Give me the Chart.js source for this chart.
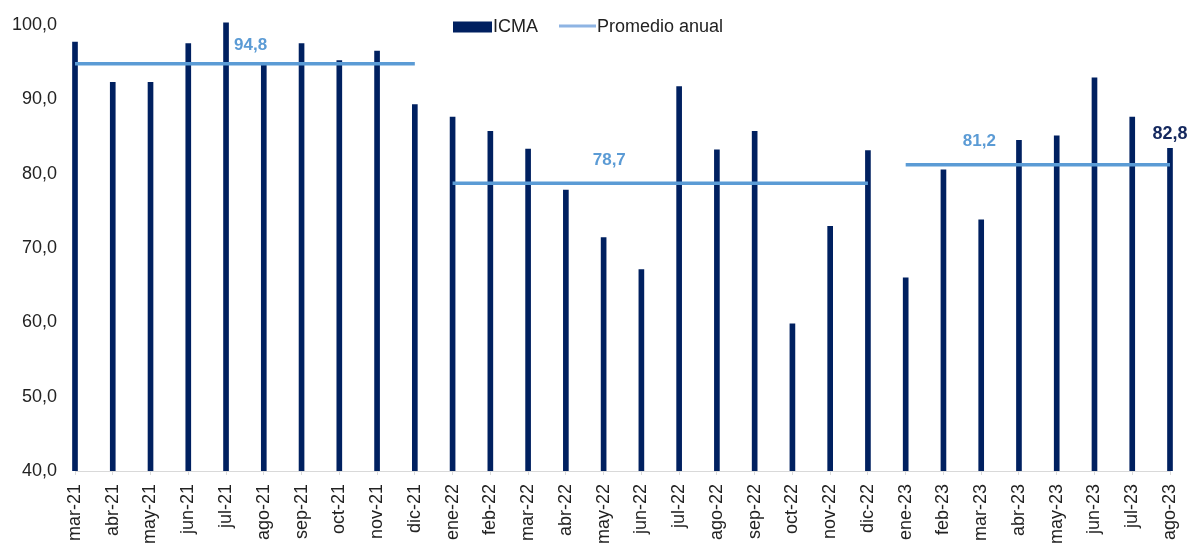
<!DOCTYPE html>
<html lang="es">
<head>
<meta charset="utf-8">
<title>ICMA</title>
<script src="https://cdn.jsdelivr.net/npm/chart.js@4.4.1/dist/chart.umd.min.js"></script>
<style>
    html, body { margin: 0; padding: 0; background: #fff; }
    #contenedor { width: 1189px; height: 545px; position: relative; }
</style>
</head>
<body>
<div id="contenedor">
    <canvas id="graficoIcma"></canvas>
</div>
<script>
// Datos
const meses = [
    'mar-21', 'abr-21', 'may-21', 'jun-21', 'jul-21', 'ago-21', 'sep-21', 'oct-21', 'nov-21', 'dic-21',
    'ene-22', 'feb-22', 'mar-22', 'abr-22', 'may-22', 'jun-22', 'jul-22', 'ago-22', 'sep-22', 'oct-22', 'nov-22', 'dic-22',
    'ene-23', 'feb-23', 'mar-23', 'abr-23', 'may-23', 'jun-23', 'jul-23', 'ago-23'
];
const icma = [
    97.7, 92.3, 92.3, 97.5, 100.3, 94.8, 97.5, 95.2, 96.5, 89.3,
    87.6, 85.7, 83.3, 77.8, 71.4, 67.1, 91.7, 83.2, 85.7, 59.8, 72.9, 83.1,
    66.0, 80.5, 73.8, 84.5, 85.1, 92.9, 87.6, 83.4
];
const anios = ['21', '22', '23'];
const promedioAnual = [94.8, 78.7, 81.2];
const ultimoDato = 82.8;
const yTicks = [40, 50, 60, 70, 80, 90, 100];

const AZUL_OSCURO = '#002060';
const AZUL_CLARO = '#5b9bd5';
const AZUL_LEYENDA = '#8eb4e3';
const FUENTE = '"Liberation Sans", Arial, sans-serif';

const fmt = (v) => v.toFixed(1).replace('.', ',');

// Una serie por año: valor del promedio solo en los meses de ese año
const seriesPromedio = anios.map((a, i) => ({
    type: 'line',
    label: 'Promedio anual ' + a,
    data: meses.map(m => m.endsWith('-' + a) ? promedioAnual[i] : null),
    borderColor: AZUL_CLARO,
    borderWidth: 3.5,
    borderCapStyle: 'butt',
    pointRadius: 0,
    spanGaps: false,
    clip: false,
    order: 1
}));

// Etiquetas de los promedios y del último dato
const etiquetas = {
    id: 'etiquetas',
    afterDatasetsDraw(chart) {
        const { ctx, scales: { x, y } } = chart;
        ctx.save();
        ctx.textAlign = 'center';
        ctx.textBaseline = 'middle';
        // posición (en índice de mes) y distancia sobre la línea
        const pos = [[4.65, 18], [14.15, 23], [23.95, 23]];
        ctx.font = 'bold 17px ' + FUENTE;
        ctx.fillStyle = AZUL_CLARO;
        promedioAnual.forEach((v, i) => {
            const px = x.getPixelForValue(pos[i][0]);
            ctx.fillText(fmt(v), px, y.getPixelForValue(v) - pos[i][1]);
        });
        const n = icma.length - 1;
        ctx.font = 'bold 18px ' + FUENTE;
        ctx.fillStyle = '#14285e';
        ctx.fillText(fmt(ultimoDato), x.getPixelForValue(n), y.getPixelForValue(icma[n]) - 14);
        ctx.restore();
    }
};

// Leyenda dibujada encima del área del gráfico, como en el original
const leyenda = {
    id: 'leyenda',
    afterDraw(chart) {
        const ctx = chart.ctx;
        ctx.save();
        ctx.font = '18px ' + FUENTE;
        ctx.textBaseline = 'middle';
        let x0 = 453;
        const yc = 27;
        ctx.fillStyle = AZUL_OSCURO;
        ctx.fillRect(x0, yc - 5.5, 39, 11);
        ctx.fillStyle = '#222';
        ctx.fillText('ICMA', x0 + 40, yc);
        x0 = x0 + 40 + ctx.measureText('ICMA').width + 21;
        ctx.strokeStyle = AZUL_LEYENDA;
        ctx.lineWidth = 3;
        ctx.beginPath();
        ctx.moveTo(x0, yc - 1);
        ctx.lineTo(x0 + 37, yc - 1);
        ctx.stroke();
        ctx.fillText('Promedio anual', x0 + 38, yc);
        ctx.restore();
    }
};

new Chart(document.getElementById('graficoIcma'), {
    type: 'bar',
    data: {
        labels: meses,
        datasets: [
            ...seriesPromedio,
            {
                type: 'bar',
                label: 'ICMA',
                data: icma,
                backgroundColor: AZUL_OSCURO,
                barThickness: 5,
                clip: { left: 5, right: 5, top: 5, bottom: 0 },
                order: 2
            }
        ]
    },
    options: {
        responsive: true,
        maintainAspectRatio: false,
        animation: false,
        layout: { padding: { left: 12, right: 19, top: 25, bottom: 0 } },
        plugins: {
            legend: { display: false },
            tooltip: { enabled: false }
        },
        scales: {
            x: {
                offset: false,
                afterFit: (axis) => { axis.height = 74; axis.paddingLeft = 0; axis.paddingRight = 0; },
                grid: {
                    display: true,
                    offset: false,
                    drawOnChartArea: false,
                    drawTicks: true,
                    tickLength: 4,
                    color: '#d9d9d9'
                },
                border: { display: true, color: '#d9d9d9', width: 1 },
                ticks: {
                    minRotation: 90,
                    maxRotation: 90,
                    autoSkip: false,
                    padding: 9,
                    color: '#222',
                    font: { family: FUENTE, size: 18 }
                }
            },
            y: {
                min: 40,
                max: 100,
                afterFit: (axis) => { axis.width = 63; axis.paddingTop = 0; axis.paddingBottom = 0; },
                afterBuildTicks: (axis) => { axis.ticks = yTicks.map(v => ({ value: v })); },
                grid: { display: false, drawTicks: false },
                border: { display: false },
                ticks: {
                    padding: 18,
                    color: '#222',
                    font: { family: FUENTE, size: 18 },
                    callback: (v) => fmt(v)
                }
            }
        }
    },
    plugins: [etiquetas, leyenda]
});
</script>
</body>
</html>
